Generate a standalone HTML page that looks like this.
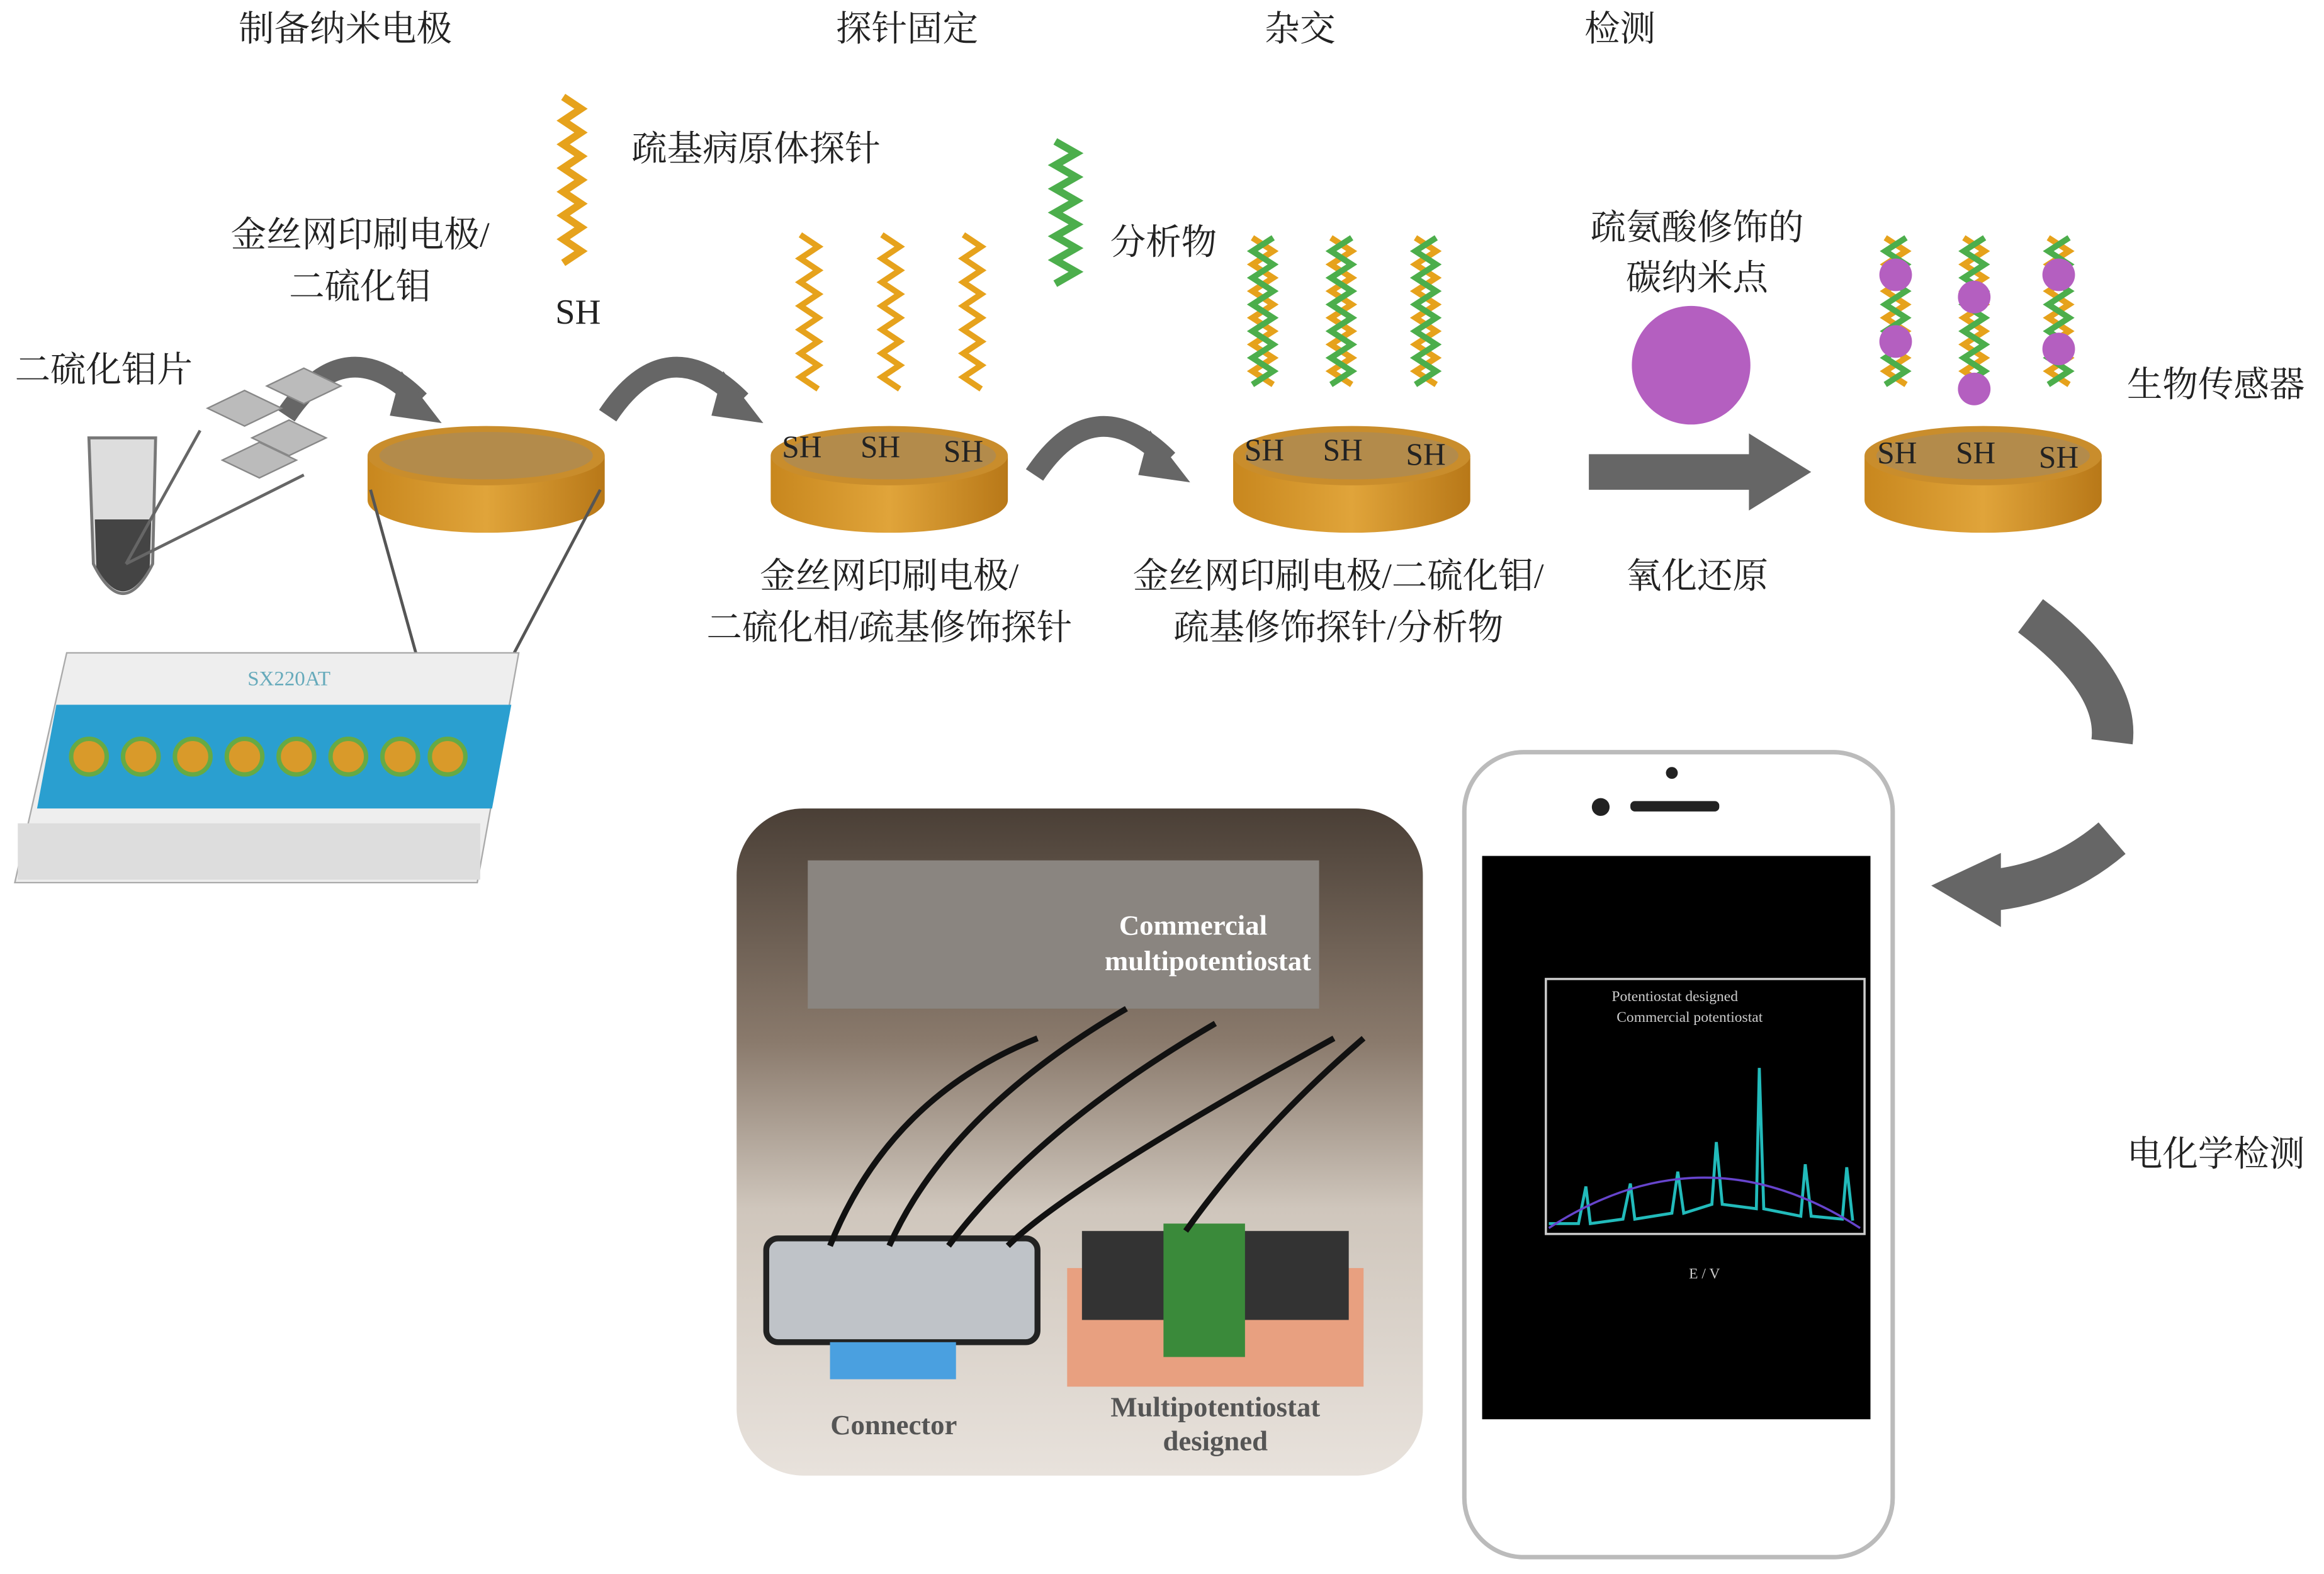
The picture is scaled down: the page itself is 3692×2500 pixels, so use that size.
<!DOCTYPE html>
<html><head><meta charset="utf-8"><style>
html,body{margin:0;padding:0;background:#fff;}
svg{display:block;}
text{font-family:"Liberation Serif","Noto Serif CJK SC","Noto Sans CJK SC",serif;fill:#222;}
</style></head><body>
<svg width="3692" height="2500" viewBox="0 0 1568 1061" xmlns="http://www.w3.org/2000/svg">
<defs>
<linearGradient id="gold" x1="0" x2="1"><stop offset="0" stop-color="#c8871e"/><stop offset="0.5" stop-color="#e0a43a"/><stop offset="1" stop-color="#b87818"/></linearGradient>
<linearGradient id="photo" x1="0" y1="0" x2="0" y2="1"><stop offset="0" stop-color="#4a3f36"/><stop offset="0.35" stop-color="#8a7a6c"/><stop offset="0.6" stop-color="#cfc6bc"/><stop offset="1" stop-color="#e8e2dc"/></linearGradient>
<symbol id="disc" viewBox="0 0 170 80">
<path d="M5 22 L5 52 A80 22 0 0 0 165 52 L165 22 Z" fill="url(#gold)"/>
<ellipse cx="85" cy="22" rx="80" ry="20" fill="#c98d2c"/>
<ellipse cx="85" cy="22" rx="72" ry="16" fill="#a58a60" opacity="0.6"/>
</symbol>
<g id="arrow"><path d="M0 40 Q40 -20 90 30" stroke="#666" stroke-width="14" fill="none"/><path d="M78 10 L105 45 L70 40 Z" fill="#666"/></g>
</defs>
<g font-size="24" text-anchor="middle">
<text x="233" y="27">制备纳米电极</text><text x="612" y="27">探针固定</text><text x="877" y="27">杂交</text><text x="1093" y="27">检测</text>
<text x="510" y="108">疏基病原体探针</text>
<text x="243" y="166">金丝网印刷电极/</text><text x="243" y="201">二硫化钼</text>
<text x="70" y="257">二硫化钼片</text>
<text x="785" y="171">分析物</text>
<text x="1145" y="161">疏氨酸修饰的</text><text x="1145" y="195">碳纳米点</text>
<text x="1495" y="267">生物传感器</text>
<text x="600" y="396">金丝网印刷电极/</text><text x="600" y="431">二硫化相/疏基修饰探针</text>
<text x="903" y="396">金丝网印刷电极/二硫化钼/</text><text x="903" y="431">疏基修饰探针/分析物</text>
<text x="1145" y="396">氧化还原</text>
<text x="1495" y="786">电化学检测</text>
<text x="390" y="218">SH</text>
</g>
<!-- probe -->
<path d="M380 65 l12 8 -12 8 12 8 -12 8 12 8 -12 8 12 8 -12 8 12 8 -12 8 12 8 -12 8 12 8 -12 8" stroke="#e6a21c" stroke-width="5" fill="none"/>
<path d="M712 95 l14 8 -14 8 14 8 -14 8 14 8 -14 8 14 8 -14 8 14 8 -14 8 14 8 -14 8" stroke="#4cae4c" stroke-width="5" fill="none"/>
<!-- discs -->
<use href="#disc" x="243" y="285" width="170" height="80"/>
<use href="#disc" x="515" y="285" width="170" height="80"/>
<use href="#disc" x="827" y="285" width="170" height="80"/>
<use href="#disc" x="1253" y="285" width="170" height="80"/>
<g font-size="21" text-anchor="middle">
<text x="541" y="308">SH</text><text x="594" y="308">SH</text><text x="650" y="311">SH</text>
<text x="853" y="310">SH</text><text x="906" y="310">SH</text><text x="962" y="313">SH</text>
<text x="1280" y="312">SH</text><text x="1333" y="312">SH</text><text x="1389" y="315">SH</text>
</g>
<!-- strands -->
<g stroke-width="4" fill="none">
<path id="s1" d="M540 158 l12 8 -12 8 12 8 -12 8 12 8 -12 8 12 8 -12 8 12 8 -12 8 12 8 -12 8 12 8" stroke="#e6a21c"/>
<path d="M595 158 l12 8 -12 8 12 8 -12 8 12 8 -12 8 12 8 -12 8 12 8 -12 8 12 8 -12 8 12 8" stroke="#e6a21c"/>
<path d="M650 158 l12 8 -12 8 12 8 -12 8 12 8 -12 8 12 8 -12 8 12 8 -12 8 12 8 -12 8 12 8" stroke="#e6a21c"/>
</g>
<g stroke-width="4" fill="none">
<path d="M845 160 l14 9 -14 9 14 9 -14 9 14 9 -14 9 14 9 -14 9 14 9 -14 9 14 9" stroke="#e6a21c"/>
<path d="M859 160 l-14 9 14 9 -14 9 14 9 -14 9 14 9 -14 9 14 9 -14 9 14 9 -14 9" stroke="#4cae4c"/>
<path d="M898 160 l14 9 -14 9 14 9 -14 9 14 9 -14 9 14 9 -14 9 14 9 -14 9 14 9" stroke="#e6a21c"/>
<path d="M912 160 l-14 9 14 9 -14 9 14 9 -14 9 14 9 -14 9 14 9 -14 9 14 9 -14 9" stroke="#4cae4c"/>
<path d="M955 160 l14 9 -14 9 14 9 -14 9 14 9 -14 9 14 9 -14 9 14 9 -14 9 14 9" stroke="#e6a21c"/>
<path d="M969 160 l-14 9 14 9 -14 9 14 9 -14 9 14 9 -14 9 14 9 -14 9 14 9 -14 9" stroke="#4cae4c"/>
<path d="M1272 160 l14 9 -14 9 14 9 -14 9 14 9 -14 9 14 9 -14 9 14 9 -14 9 14 9" stroke="#e6a21c"/>
<path d="M1286 160 l-14 9 14 9 -14 9 14 9 -14 9 14 9 -14 9 14 9 -14 9 14 9 -14 9" stroke="#4cae4c"/>
<path d="M1325 160 l14 9 -14 9 14 9 -14 9 14 9 -14 9 14 9 -14 9 14 9 -14 9 14 9" stroke="#e6a21c"/>
<path d="M1339 160 l-14 9 14 9 -14 9 14 9 -14 9 14 9 -14 9 14 9 -14 9 14 9 -14 9" stroke="#4cae4c"/>
<path d="M1382 160 l14 9 -14 9 14 9 -14 9 14 9 -14 9 14 9 -14 9 14 9 -14 9 14 9" stroke="#e6a21c"/>
<path d="M1396 160 l-14 9 14 9 -14 9 14 9 -14 9 14 9 -14 9 14 9 -14 9 14 9 -14 9" stroke="#4cae4c"/>
</g>
<g fill="#b45fc0">
<circle cx="1279" cy="185" r="11"/><circle cx="1279" cy="230" r="11"/><circle cx="1332" cy="200" r="11"/><circle cx="1332" cy="262" r="11"/>
<circle cx="1389" cy="185" r="11"/><circle cx="1389" cy="235" r="11"/>
</g>
<circle cx="1141" cy="246" r="40" fill="#b45fc0"/>
<!-- arrows -->
<g transform="translate(193,240)"><use href="#arrow"/></g>
<g transform="translate(410,240)"><use href="#arrow"/></g>
<g transform="translate(698,280)"><use href="#arrow"/></g>
<rect x="1072" y="306" width="110" height="24" fill="#666"/><path d="M1180 292 L1222 318 L1180 344 Z" fill="#666"/>
<path d="M1370 415 Q1430 460 1425 500" stroke="#666" stroke-width="28" fill="none"/>
<path d="M1425 565 Q1390 595 1345 600" stroke="#666" stroke-width="28" fill="none"/>
<path d="M1350 575 L1303 597 L1350 625 Z" fill="#666"/>
<!-- tube & flakes -->
<path d="M60 295 L105 295 L103 380 Q83 420 63 380 Z" fill="#ddd" stroke="#777" stroke-width="2"/>
<path d="M64 350 L102 350 L101 382 Q83 415 65 382 Z" fill="#444"/>
<g fill="#bbb" stroke="#888"><path d="M140 275 l25 -12 25 12 -25 12z"/><path d="M170 295 l25 -12 25 12 -25 12z"/><path d="M150 310 l25 -12 25 12 -25 12z"/><path d="M180 260 l25 -12 25 12 -25 12z"/></g>
<line x1="85" y1="380" x2="205" y2="320" stroke="#666" stroke-width="2"/><line x1="85" y1="380" x2="135" y2="290" stroke="#666" stroke-width="2"/>
<line x1="250" y1="330" x2="300" y2="510" stroke="#555" stroke-width="2"/><line x1="405" y1="330" x2="310" y2="510" stroke="#555" stroke-width="2"/>
<!-- electrode strip -->
<path d="M45 440 L350 440 L322 595 L10 595 Z" fill="#eee" stroke="#aaa"/>
<path d="M38 475 L345 475 L332 545 L25 545 Z" fill="#2a9fd0"/>
<text x="195" y="462" font-size="14" fill="#5aa" text-anchor="middle" style="fill:#6ab">SX220AT</text>
<g fill="#d99a2a" stroke="#6a4" stroke-width="3">
<circle cx="60" cy="510" r="12"/><circle cx="95" cy="510" r="12"/><circle cx="130" cy="510" r="12"/><circle cx="165" cy="510" r="12"/><circle cx="200" cy="510" r="12"/><circle cx="235" cy="510" r="12"/><circle cx="270" cy="510" r="12"/><circle cx="302" cy="510" r="12"/>
</g>
<rect x="12" y="555" width="312" height="38" fill="#ddd"/>
<!-- photo -->
<rect x="497" y="545" width="463" height="450" rx="45" fill="url(#photo)"/>
<rect x="545" y="580" width="345" height="100" fill="#8a8580"/>
<rect x="517" y="835" width="183" height="70" rx="8" fill="#bfc3c8" stroke="#222" stroke-width="4"/>
<rect x="560" y="905" width="85" height="25" fill="#4aa0e0"/>
<rect x="720" y="855" width="200" height="80" fill="#e8a080"/>
<rect x="730" y="830" width="180" height="60" fill="#333"/>
<rect x="785" y="825" width="55" height="90" fill="#3a8a3a"/>
<g stroke="#111" stroke-width="4" fill="none"><path d="M560 840 Q600 740 700 700"/><path d="M600 840 Q640 750 760 680"/><path d="M640 840 Q700 760 820 690"/><path d="M680 840 Q720 800 900 700"/><path d="M800 830 Q850 760 920 700"/></g>
<g font-size="19" text-anchor="middle" font-weight="bold">
<text x="805" y="630" style="fill:#fff">Commercial</text><text x="815" y="654" style="fill:#fff">multipotentiostat</text>
<text x="603" y="967" style="fill:#555">Connector</text>
<text x="820" y="955" style="fill:#555">Multipotentiostat</text><text x="820" y="978" style="fill:#555">designed</text>
</g>
<!-- phone -->
<rect x="988" y="507" width="289" height="543" rx="40" fill="#fff" stroke="#bbb" stroke-width="3"/>
<circle cx="1128" cy="521" r="4" fill="#222"/><circle cx="1080" cy="544" r="6" fill="#222"/><rect x="1100" y="540" width="60" height="7" rx="3" fill="#222"/>
<rect x="1000" y="577" width="262" height="380" fill="#000"/>
<rect x="1043" y="660" width="215" height="172" fill="none" stroke="#ccc" stroke-width="1.5"/>
<path d="M1045 825 L1065 825 L1070 800 L1073 825 L1095 822 L1100 798 L1103 822 L1128 818 L1132 790 L1136 818 L1155 812 L1158 770 L1162 812 L1185 815 L1187 720 L1190 815 L1215 820 L1218 785 L1222 820 L1243 822 L1246 787 L1250 823" stroke="#2bb" stroke-width="2" fill="none"/>
<path d="M1045 828 Q1150 760 1255 828" stroke="#64c" stroke-width="1.5" fill="none"/>
<g font-size="10" style="fill:#ccc" text-anchor="middle"><text x="1150" y="862" style="fill:#ccc">E / V</text><text x="1130" y="675" style="fill:#ccc">Potentiostat designed</text><text x="1140" y="689" style="fill:#ccc">Commercial potentiostat</text></g>
</svg>
</body></html>
